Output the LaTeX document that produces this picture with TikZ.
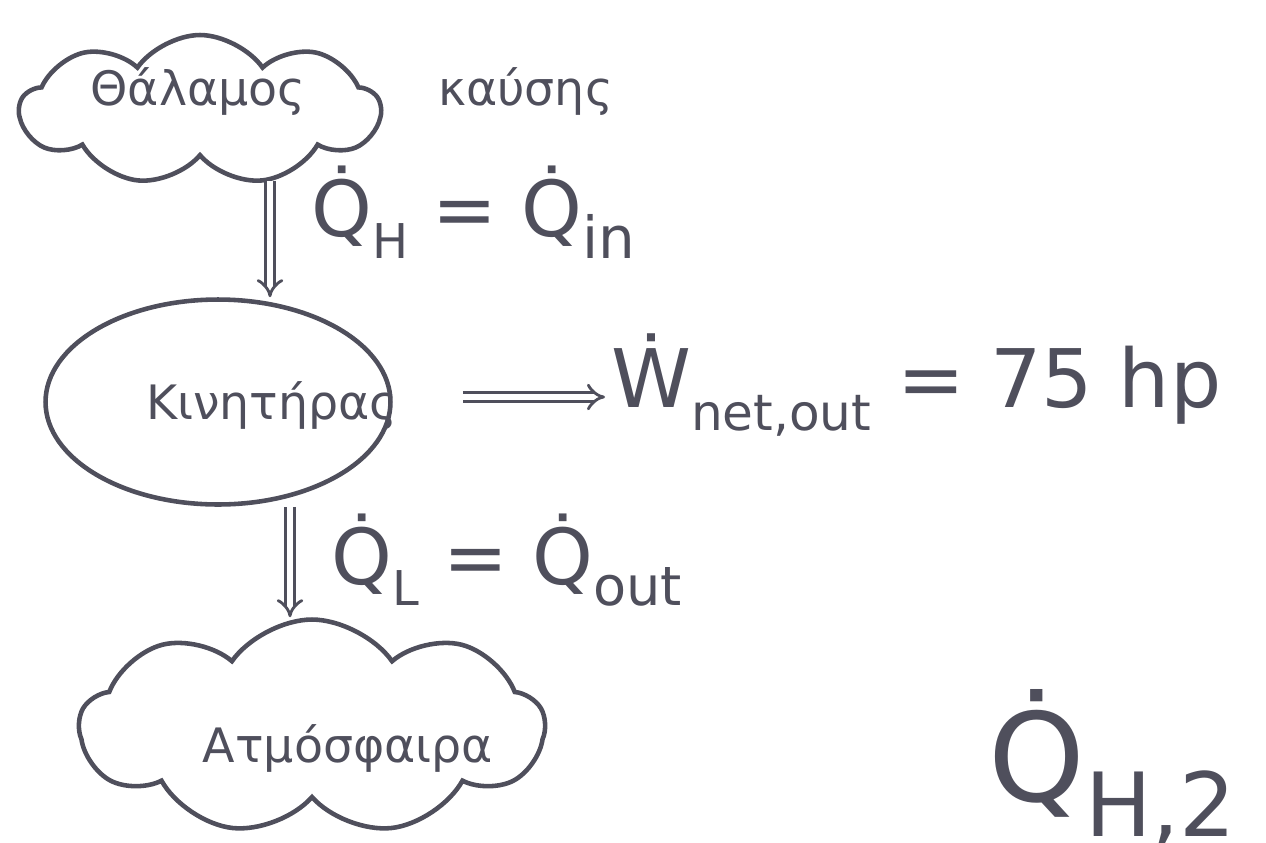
\documentclass[tikz,border=0pt]{standalone}
\usepackage{fontspec}
\setmainfont{DejaVu Sans}
\usetikzlibrary{shapes.symbols,shapes.geometric,arrows.meta}
\definecolor{ink}{HTML}{4F4F5C}
\newcommand{\sbs}[2][0.62]{\raisebox{-0.28em}{\scalebox{#1}{#2}}}
\begin{document}
\begin{tikzpicture}[x=0.02cm,y=-0.02cm,
  ink line/.style={draw=ink, line width=2.6pt},
  cloudbox/.style={ink line, cloud, cloud puffs=9, cloud puff arc=110, cloud ignores aspect, inner sep=0pt},
  enginebox/.style={ink line, ellipse, inner sep=0pt},
  greektxt/.style={text=ink, font=\fontsize{27}{32}\selectfont},
  mathlbl/.style={text=ink, font=\fontsize{44}{50}\selectfont},
  biglbl/.style={text=ink, font=\fontsize{46}{54}\selectfont},
  hugelbl/.style={text=ink, font=\fontsize{70}{78}\selectfont},
  dblarrow/.style={draw=ink, line width=1.6pt, double=white, double distance=3.5pt, -{Implies[length=9pt]}}
]
\useasboundingbox (0,0) rectangle (1266,842);
\clip (0,0) rectangle (1266,842);
% nodes
\node[cloudbox, minimum width=7.2cm, minimum height=3cm] (chamber) at (200,110) {};
\node[greektxt] (chambertxt) at (198,92) {Θάλαμος};
\node[greektxt, anchor=west] (chamberlbl) at (432,92) {καύσης};
\node[enginebox, minimum width=6.9cm, minimum height=4.1cm] (engine) at (218,402) {};
\node[greektxt] (enginetxt) at (272,405) {Κινητήρας};
\node[cloudbox, minimum width=9.3cm, minimum height=4.3cm] (atm) at (312,727) {};
\node[greektxt] (atmtxt) at (348,748) {Ατμόσφαιρα};
\node[mathlbl, anchor=west] (qh) at (305,212) {Q̇\sbs{H} = Q̇\sbs[0.75]{in}};
\node[mathlbl, anchor=west] (ql) at (325,560) {Q̇\sbs{L} = Q̇\sbs[0.7]{out}};
\node[biglbl, anchor=west] (work) at (605,385) {Ẇ\sbs{net,out} = 75 hp};
\node[hugelbl, anchor=west] (qh2) at (982,768) {Q̇\sbs[0.72]{H,2} =};
% connectors
\path (chamber.south) ++(70,22) coordinate (a1s);
\draw[dblarrow] (a1s) -- (a1s |- engine.north);
\path (engine.east) ++(70,-5) coordinate (a2s);
\draw[dblarrow] (a2s) -- (a2s -| work.west);
\path (engine.south) ++(72,0) coordinate (a3s);
\draw[dblarrow] (a3s) -- (a3s |- atm.north);
\end{tikzpicture}
\end{document}
